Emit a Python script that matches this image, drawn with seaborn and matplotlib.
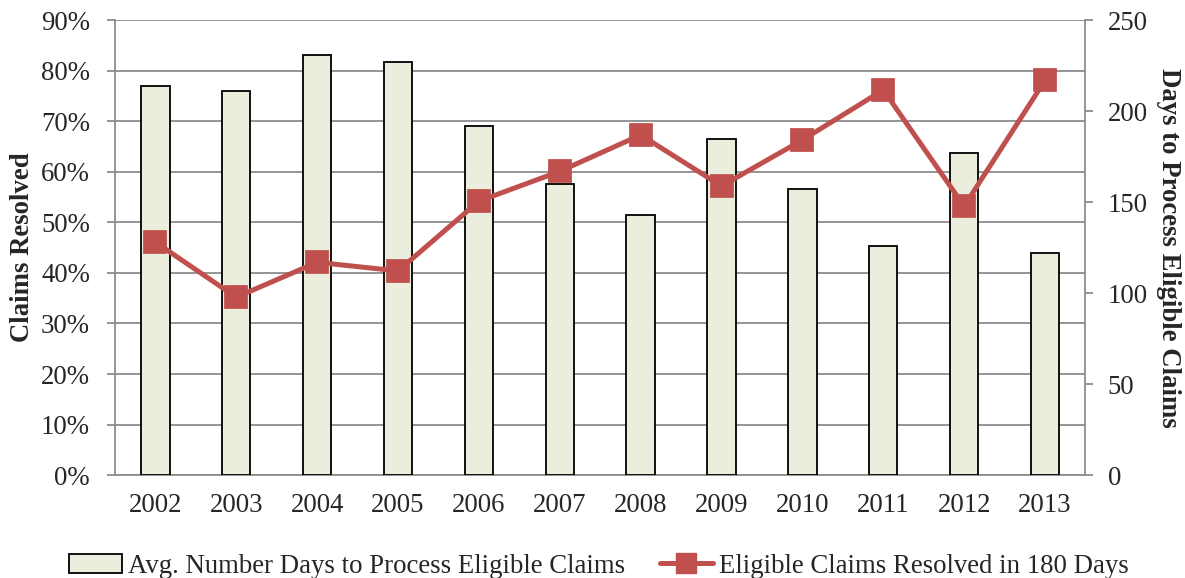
import matplotlib
matplotlib.use('Agg')
import matplotlib.pyplot as plt
import seaborn as sns
import pandas as pd
from matplotlib.ticker import PercentFormatter, MultipleLocator, FixedLocator
from matplotlib.patches import Patch
from matplotlib.lines import Line2D

# data
years = ['2002', '2003', '2004', '2005', '2006', '2007',
         '2008', '2009', '2010', '2011', '2012', '2013']
avg_days = [214, 211, 231, 227, 192, 160, 143, 185, 157, 126, 177, 122]
resolved_180 = [0.461, 0.352, 0.421, 0.404, 0.542, 0.601, 0.673, 0.572, 0.663, 0.762, 0.532, 0.781]

df = pd.DataFrame({'year': years, 'days': avg_days, 'resolved': resolved_180})

sns.set_style('white')
plt.rcParams['font.family'] = ['Liberation Serif', 'DejaVu Serif']

bar_color = '#EBEEDD'
line_color = '#C0504D'
grid_color = '#8C8C8C'
tick_fs = 19.3
label_fs = 19.3

fig = plt.figure(figsize=(11.85, 5.78), dpi=100)
ax = fig.add_axes([0.097, 0.178, 0.819, 0.787])

# left axis: percentages + grid
ax.set_ylim(0, 0.9)
ax.set_xlim(-0.5, 11.5)
ax.yaxis.set_major_locator(MultipleLocator(0.1))
ax.yaxis.set_major_formatter(PercentFormatter(1.0, decimals=0))
ax.grid(axis='y', color=grid_color, linewidth=1.3)
ax.set_axisbelow(True)
ax.set_xticks(range(len(years)))
ax.set_xticklabels(years)
ax.xaxis.set_minor_locator(FixedLocator([i - 0.5 for i in range(len(years) + 1)]))
ax.tick_params(axis='x', which='major', length=0, pad=13, labelsize=tick_fs)
ax.tick_params(axis='x', which='minor', length=7, color=grid_color, width=1.3)
ax.tick_params(axis='y', length=6, color=grid_color, width=1.3, labelsize=tick_fs,
               left=True, pad=12)
ax.set_ylabel('Claims Resolved', fontsize=label_fs, fontweight='bold', labelpad=4)
for s in ['top', 'right']:
    ax.spines[s].set_visible(False)
for s in ['left', 'bottom']:
    ax.spines[s].set_color(grid_color)
    ax.spines[s].set_linewidth(1.3)

# right axis: bars of days
axr = ax.twinx()
sns.barplot(data=df, x='year', y='days', order=years, color=bar_color,
            edgecolor='black', linewidth=1.3, width=0.35, saturation=1, ax=axr)
axr.set_ylim(0, 250)
axr.set_xlim(-0.5, 11.5)
axr.yaxis.set_major_locator(MultipleLocator(50))
axr.tick_params(axis='y', length=6, color=grid_color, width=1.3, labelsize=tick_fs,
                right=True, pad=10)
axr.set_ylabel('Days to Process Eligible Claims', fontsize=label_fs, fontweight='bold',
               rotation=270, labelpad=24)
axr.set_xlabel('')
for s in ['top', 'left', 'bottom']:
    axr.spines[s].set_visible(False)
axr.spines['right'].set_color(grid_color)
axr.spines['right'].set_linewidth(1.3)

# line on top, in the left scale
axl = ax.twinx()
sns.pointplot(data=df, x='year', y='resolved', order=years, color=line_color,
              markers='s', markersize=14, linewidth=3.6, ax=axl)
axl.set_ylim(0, 0.9)
axl.set_xlim(-0.5, 11.5)
axl.set_ylabel('')
axl.set_xlabel('')
axl.set_yticks([])
axl.axis('off')

handles = [Patch(facecolor=bar_color, edgecolor='black', linewidth=1.3,
                 label='Avg. Number Days to Process Eligible Claims'),
           Line2D([0], [0], color=line_color, linewidth=3.6, marker='s', markersize=14,
                  label='Eligible Claims Resolved in 180 Days')]
fig.legend(handles=handles, loc='lower center', bbox_to_anchor=(0.505, -0.043), ncol=2,
           frameon=False, fontsize=label_fs, handlelength=2.0, handletextpad=0.2,
           columnspacing=1.3)

fig.savefig('out.png', dpi=100)
